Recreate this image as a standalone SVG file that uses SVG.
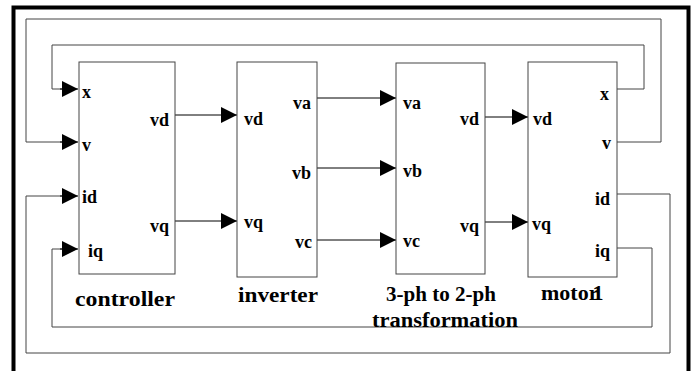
<svg xmlns="http://www.w3.org/2000/svg" width="694" height="371" viewBox="0 0 694 371">
<defs>
<marker id="ah" markerUnits="userSpaceOnUse" markerWidth="16" markerHeight="16" refX="16" refY="8" orient="auto">
<path d="M0,0 L16,8 L0,16 z" fill="#000"/>
</marker>
<style>
.box{fill:#fff;stroke:#444;stroke-width:1}
.fb{fill:none;stroke:#444;stroke-width:1}
.sig{fill:none;stroke:#000;stroke-width:1;marker-end:url(#ah)}
.port{font-family:"Liberation Serif","Times New Roman",serif;font-weight:bold;font-size:18px;fill:#000}
.lbl{font-family:"Liberation Serif","Times New Roman",serif;font-weight:bold;font-size:22px;fill:#000}
.r{text-anchor:end}
</style>
</defs>
<rect width="694" height="371" fill="#fff"/>
<path d="M13.5,371 V7.5 H688.5 V371" fill="none" stroke="#000" stroke-width="4"/>

<g id="connectors">
<path class="fb" d="M617,142 H661 V19 H26 V142 H62"/>
<path class="fb" d="M617,89 H644 V45 H52 V89 H62"/>
<path class="fb" d="M617,194 H670 V353 H26 V196 H62"/>
<path class="fb" d="M617,248 H652 V327 H52 V249 H62"/>
<path class="sig" d="M60,89 H78"/>
<path class="sig" d="M60,142 H78"/>
<path class="sig" d="M60,196 H78"/>
<path class="sig" d="M60,249 H78"/>
<path class="sig" d="M175,115 H237"/>
<path class="sig" d="M175,221 H237"/>
<path class="sig" d="M317,98 H396"/>
<path class="sig" d="M317,168 H396"/>
<path class="sig" d="M317,240 H396"/>
<path class="sig" d="M485,117 H528"/>
<path class="sig" d="M485,222 H528"/>
</g>

<g id="controller">
<rect class="box" x="79" y="62" width="96" height="212"/>
<text class="port" x="82" y="98">x</text>
<text class="port" x="82" y="151">v</text>
<text class="port" x="82" y="203">id</text>
<text class="port" x="88" y="257">iq</text>
<text class="port r" x="169" y="126">vd</text>
<text class="port r" x="169" y="232">vq</text>
<text class="lbl" x="75" y="306" textLength="100" lengthAdjust="spacingAndGlyphs">controller</text>
</g>

<g id="inverter">
<rect class="box" x="237" y="62" width="80" height="215"/>
<text class="port" x="244" y="125">vd</text>
<text class="port" x="244" y="228">vq</text>
<text class="port r" x="311" y="109">va</text>
<text class="port r" x="311" y="179">vb</text>
<text class="port r" x="312" y="248">vc</text>
<text class="lbl" x="238" y="302" textLength="80" lengthAdjust="spacingAndGlyphs">inverter</text>
</g>

<g id="transformation">
<rect class="box" x="396" y="63" width="89" height="211"/>
<text class="port" x="403" y="109">va</text>
<text class="port" x="403" y="177">vb</text>
<text class="port" x="403" y="247">vc</text>
<text class="port r" x="479" y="125">vd</text>
<text class="port r" x="479" y="232">vq</text>
<text class="lbl" x="386" y="301" textLength="110" lengthAdjust="spacingAndGlyphs">3-ph to 2-ph</text>
<text class="lbl" x="372" y="327" textLength="146" lengthAdjust="spacingAndGlyphs">transformation</text>
</g>

<g id="motor">
<rect class="box" x="528" y="62" width="89" height="215"/>
<text class="port" x="533" y="125">vd</text>
<text class="port" x="532" y="230">vq</text>
<text class="port r" x="609" y="100">x</text>
<text class="port r" x="611" y="149">v</text>
<text class="port r" x="610" y="205">id</text>
<text class="port r" x="610" y="257">iq</text>
<text class="lbl" x="541" y="300">motor<tspan dx="-6">1</tspan></text>
</g>
</svg>
